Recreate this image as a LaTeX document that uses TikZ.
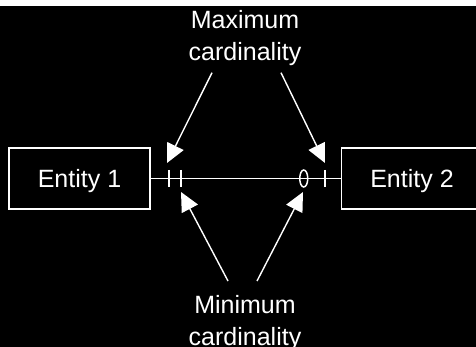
\documentclass[tikz,border=0pt]{standalone}
\usepackage{fontspec}
\setmainfont{Liberation Sans}
\usetikzlibrary{positioning, arrows.meta, calc}

\begin{document}
\begin{tikzpicture}[x=1pt, y=-1pt, every node/.style={text=white, font=\fontsize{25}{32}\selectfont},
  entity/.style={draw=white, line width=1.5pt, minimum width=141pt, minimum height=61pt, inner sep=0pt, text depth=0pt},
  label/.style={anchor=north, align=center, inner sep=0pt},
  card/.style={draw=white, line width=1.4pt, -{Triangle[length=19pt,width=18pt]}},
  tickmark/.style={draw=white, line width=1.5pt}]
    % Background
    \fill[black] (0,0) rectangle (476,347);
    \fill[white] (0,0) rectangle (476,6);
    \useasboundingbox (0,0) rectangle (476,347);

    % Entities
    \node[entity] (ent1) at (79.5,178.5) {Entity 1};
    \node[entity, right=190pt of ent1] (ent2) {Entity 2};

    % Relationship line with cardinality marks
    \draw[tickmark] (ent1) -- (ent2);
    \draw[tickmark] ($(ent1.east)+(18,-8.5)$) -- ++(0,17);
    \draw[tickmark] ($(ent1.east)+(30,-8.5)$) -- ++(0,17);
    \draw[tickmark] ($(ent2.west)+(-16,-8.5)$) -- ++(0,17);
    \draw[tickmark] ($(ent2.west)+(-37,0)$) ellipse (4 and 8.5);

    % Labels
    \node[label] (maxlbl) at (245,10) {Maximum\\cardinality};
    \node[label] (minlbl) at (245,295) {Minimum\\cardinality};

    % Arrow targets
    \coordinate (maxa) at (167,163);
    \coordinate (maxb) at (325,163);
    \coordinate (mina) at (181,192);
    \coordinate (minb) at (303,192);

    % Pointers
    \draw[card] ($(maxlbl.south)+(-33,7)$) -- (maxa);
    \draw[card] ($(maxlbl.south)+(36,7)$) -- (maxb);
    \draw[card] ($(minlbl.north)+(-17,-14)$) -- (mina);
    \draw[card] ($(minlbl.north)+(12,-14)$) -- (minb);
\end{tikzpicture}
\end{document}
